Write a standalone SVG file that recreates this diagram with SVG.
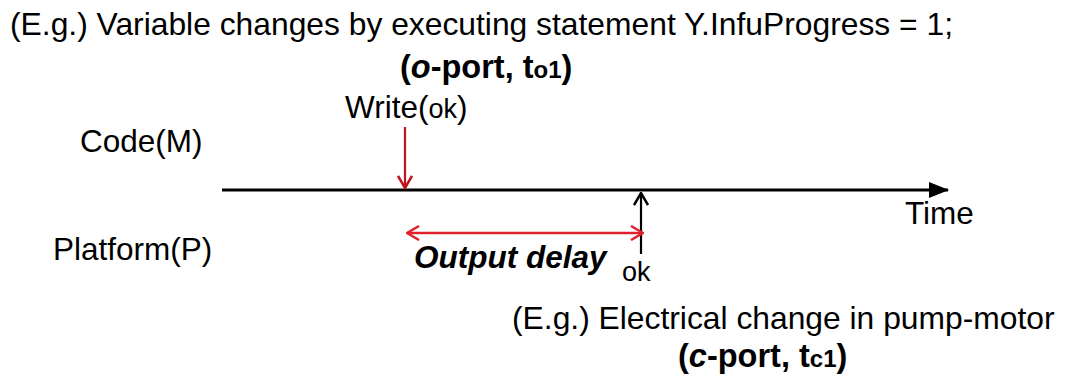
<svg xmlns="http://www.w3.org/2000/svg" width="1069" height="385" viewBox="0 0 1069 385">
<style>
text{font-family:"Liberation Sans",Arial,sans-serif;fill:#000}
.t{font-size:31.5px}
.h{font-size:31.8px}
.bp{font-size:32.5px;font-weight:bold}
.s{font-size:24px}
.sk{font-size:27px}
</style>
<defs>
<marker id="fill" viewBox="0 0 20 16" refX="19" refY="8" markerWidth="20" markerHeight="16" markerUnits="userSpaceOnUse" orient="auto">
<path d="M0,0 L20,8 L0,16 Z" fill="#000"/>
</marker>
<marker id="vred" viewBox="0 0 14 16" refX="13" refY="8" markerWidth="14" markerHeight="16" markerUnits="userSpaceOnUse" orient="auto-start-reverse">
<path d="M1,1 L13,8 L1,15" fill="none" stroke="#e0202a" stroke-width="2.5"/>
</marker>
<marker id="vdark" viewBox="0 0 14 16" refX="13" refY="8" markerWidth="14" markerHeight="16" markerUnits="userSpaceOnUse" orient="auto">
<path d="M1,1 L13,8 L1,15" fill="none" stroke="#c0141c" stroke-width="2.5"/>
</marker>
<marker id="vblack" viewBox="0 0 14 16" refX="13" refY="8" markerWidth="14" markerHeight="16" markerUnits="userSpaceOnUse" orient="auto">
<path d="M1,1 L13,8 L1,15" fill="none" stroke="#000" stroke-width="2.5"/>
</marker>
</defs>
<g id="title">
<text class="h" x="10" y="35">(E.g.) Variable changes by executing statement Y.InfuProgress = 1;</text>
<text class="bp" x="400" y="78">(<tspan font-style="italic">o</tspan>-port, t<tspan class="s">o1</tspan>)</text>
</g>
<g id="write">
<text class="t" x="345" y="118">Write(<tspan class="sk">ok</tspan>)</text>
</g>
<g id="code">
<text class="t" x="80" y="152">Code(M)</text>
</g>
<g id="platform">
<text class="t" x="53" y="260">Platform(P)</text>
</g>
<g id="time">
<text class="t" x="905" y="224">Time</text>
</g>
<g id="delay">
<text class="t" font-weight="bold" font-style="italic" x="414" y="268">Output delay</text>
</g>
<g id="ok">
<text class="sk" x="622" y="281">ok</text>
</g>
<g id="electrical">
<text class="h" x="512" y="329">(E.g.) Electrical change in pump-motor</text>
<text class="bp" x="678" y="367">(<tspan font-style="italic">c</tspan>-port, t<tspan class="s">c1</tspan>)</text>
</g>
<g id="connectors">
<line x1="222" y1="190" x2="948" y2="190" stroke="#000" stroke-width="3" marker-end="url(#fill)"/>
<line x1="405" y1="127" x2="405" y2="188" stroke="#c0141c" stroke-width="2.2" marker-end="url(#vdark)"/>
<line x1="641" y1="254" x2="641" y2="193" stroke="#000" stroke-width="2.2" marker-end="url(#vblack)"/>
<line x1="407" y1="233" x2="643" y2="233" stroke="#e0202a" stroke-width="2.5" marker-start="url(#vred)" marker-end="url(#vred)"/>
</g>
</svg>
